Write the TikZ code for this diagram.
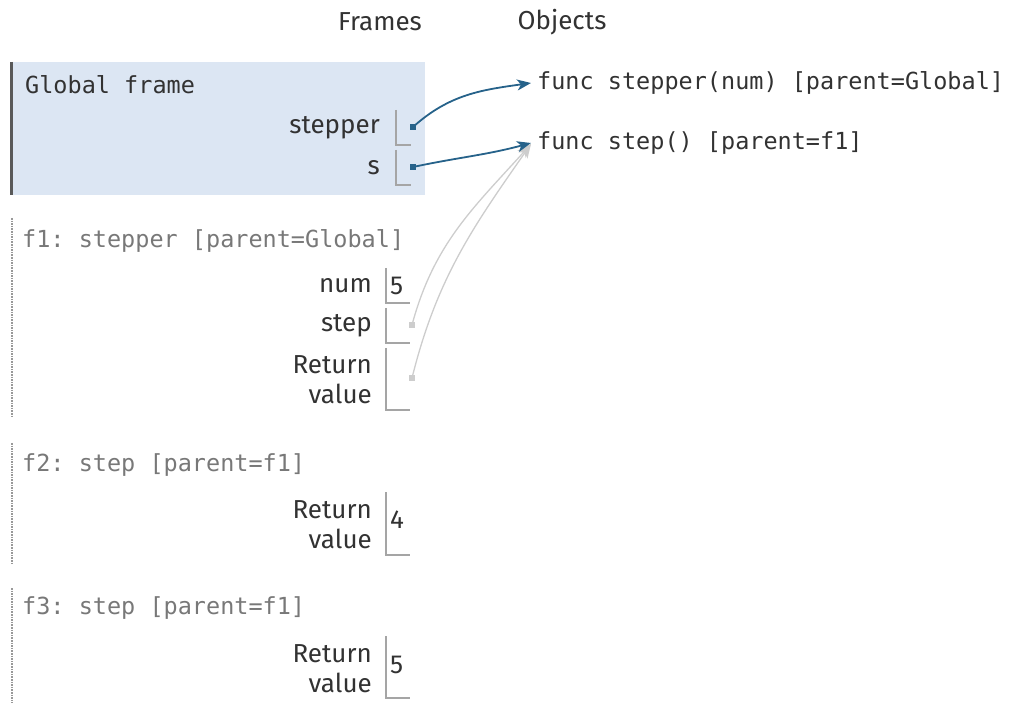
\documentclass[tikz,border=0pt]{standalone}
\usepackage{fontspec}
\setmainfont{Fira Sans}
\setmonofont{DejaVu Sans Mono}
\usetikzlibrary{arrows.meta}
\definecolor{globalbg}{RGB}{220,230,243}
\definecolor{refblue}{RGB}{38,98,138}
\definecolor{refgray}{RGB}{205,205,205}
\definecolor{slotgray}{RGB}{165,165,165}
\definecolor{txtdark}{RGB}{50,50,50}
\definecolor{txtgray}{RGB}{120,120,120}
\begin{document}
\begin{tikzpicture}[x=1pt,y=-1pt,
  lbl/.style={anchor=east, inner sep=0pt, text=txtdark, align=right,
    font=\fontsize{26}{30}\selectfont},
  hdr/.style={anchor=west, inner sep=0pt, text=txtgray,
    font=\ttfamily\fontsize{23.5}{28}\selectfont},
  obj/.style={anchor=west, inner sep=0pt, text=txtdark,
    font=\ttfamily\fontsize{23.5}{28}\selectfont},
  val/.style={anchor=west, inner sep=0pt, text=txtdark,
    font=\fontsize{26}{30}\selectfont},
  slot/.style={draw=slotgray, line width=1.6pt},
  ptr/.style={rectangle, inner sep=0pt, minimum size=6.5pt},
  ref/.style={draw=refblue, line width=1.8pt, -{Stealth[length=14pt,width=11pt,inset=4pt]}},
  oldref/.style={draw=refgray, line width=1.3pt, -{Stealth[length=14pt,width=11pt,inset=4pt]}}]
  \useasboundingbox (0,0) rectangle (1013,703);

  \node[anchor=center, inner sep=0pt, text=txtdark, font=\fontsize{26}{30}\selectfont] (frames) at (380,22) {Frames};
  \node[anchor=center, inner sep=0pt, text=txtdark, font=\fontsize{26}{30}\selectfont] (objects) at (562,22) {Objects};

  \fill[globalbg] (10,62) rectangle (425,195);
  \draw[line width=3pt, draw=black!65] (11.5,62) -- (11.5,195);
  \node[obj] (gtitle) at (25,85) {Global frame};

  \node[lbl] (gstepper) at (380,128) {stepper};
  \draw[slot] (396,110) |- (411,145);
  \node[ptr, fill=refblue] (pstepper) at (413,127) {};

  \node[lbl] (gs) at (380,168) {s};
  \draw[slot] (396,150) |- (411,185);
  \node[ptr, fill=refblue] (ps) at (413,167) {};

  \node[obj] (ostepper) at (537,83) {func stepper(num) [parent=Global]};
  \node[obj] (ostep) at (537,143) {func step() [parent=f1]};

  \draw[densely dotted, line width=1.6pt, draw=black!40] (12,218) -- (12,418);
  \node[hdr] (f1) at (22,241) {f1: stepper [parent=Global]};

  \node[lbl] (fnum) at (372,286) {num};
  \draw[slot] (386,268) |- (410,303);
  \node[val] (vnum) at (390,286) {5};

  \node[lbl] (fstep) at (372,326) {step};
  \draw[slot] (386,308) |- (410,343);
  \node[ptr, fill=refgray] (pstep) at (412,325) {};

  \node[lbl] (fret) at (372,380) {Return\\value};
  \draw[slot] (386,348) |- (410,410);
  \node[ptr, fill=refgray] (pret) at (412,378) {};

  \draw[densely dotted, line width=1.6pt, draw=black!40] (12,443) -- (12,563);
  \node[hdr] (f2) at (22,465) {f2: step [parent=f1]};
  \node[lbl] (f2ret) at (372,525) {Return\\value};
  \draw[slot] (386,492) |- (410,555);
  \node[val] (v2ret) at (390,520) {4};

  \draw[densely dotted, line width=1.6pt, draw=black!40] (12,588) -- (12,703);
  \node[hdr] (f3) at (22,608) {f3: step [parent=f1]};
  \node[lbl] (f3ret) at (372,669) {Return\\value};
  \draw[slot] (386,636) |- (410,698);
  \node[val] (v3ret) at (390,665) {5};

  \draw[oldref] (pstep.center) to[out=75,in=228] ([xshift=-6pt,yshift=-1pt]ostep.west);
  \draw[oldref] (pret.center) to[out=76,in=235] ([xshift=-6pt,yshift=-1pt]ostep.west);
  \draw[ref] (pstepper.center) to[out=42,in=188] ([xshift=-6pt]ostepper.west);
  \draw[ref] (ps.center) to[out=12,in=195] ([xshift=-6pt]ostep.west);
\end{tikzpicture}
\end{document}
